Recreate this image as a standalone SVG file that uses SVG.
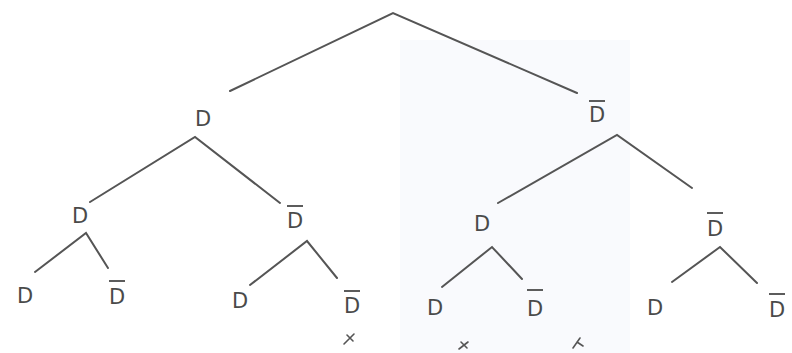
<svg xmlns="http://www.w3.org/2000/svg" width="792" height="353" viewBox="0 0 792 353">
  <defs>
    <style>
      .lbl { font-family: "DejaVu Sans", "Liberation Sans", sans-serif; font-size: 21px; fill: #4a4a4a; text-anchor: middle; }
      .bar { stroke: #4a4a4a; stroke-width: 1.8; }
      .edge { stroke: #555; stroke-width: 2; fill: none; stroke-linecap: round; }
      .mark { stroke: #555; stroke-width: 1.6; fill: none; stroke-linecap: round; }
    </style>
  </defs>
  <rect width="792" height="353" fill="#ffffff"/>
  <rect x="400" y="40" width="230" height="313" fill="#f9fafd"/>

  <g id="connectors">
    <path class="edge" d="M230,91 L393,13 L577,93"/>
    <path class="edge" d="M90,202 L195,137 L280,203"/>
    <path class="edge" d="M498,203 L617,135 L692,188"/>
    <path class="edge" d="M35,272 L86,233 L108,268"/>
    <path class="edge" d="M250,285 L307,241 L337,278"/>
    <path class="edge" d="M442,287 L492,247 L522,279"/>
    <path class="edge" d="M672,282 L720,247 L757,283"/>
  </g>

  <g id="n-D"><text class="lbl" x="203" y="126">D</text></g>
  <g id="n-Dbar"><line class="bar" x1="589" y1="101" x2="605" y2="101"/><text class="lbl" x="597" y="122">D</text></g>

  <g id="n-D-D"><text class="lbl" x="80" y="223">D</text></g>
  <g id="n-D-Dbar"><line class="bar" x1="287" y1="206" x2="303" y2="206"/><text class="lbl" x="295" y="228">D</text></g>
  <g id="n-Dbar-D"><text class="lbl" x="482" y="231">D</text></g>
  <g id="n-Dbar-Dbar"><line class="bar" x1="707" y1="213" x2="723" y2="213"/><text class="lbl" x="715" y="236">D</text></g>

  <g id="leaf1"><text class="lbl" x="25" y="303">D</text></g>
  <g id="leaf2"><line class="bar" x1="109" y1="281" x2="125" y2="281"/><text class="lbl" x="117" y="304">D</text></g>
  <g id="leaf3"><text class="lbl" x="240" y="308">D</text></g>
  <g id="leaf4"><line class="bar" x1="344" y1="291" x2="360" y2="291"/><text class="lbl" x="352" y="313">D</text></g>
  <g id="leaf5"><text class="lbl" x="435" y="315">D</text></g>
  <g id="leaf6"><line class="bar" x1="527" y1="290" x2="543" y2="290"/><text class="lbl" x="535" y="316">D</text></g>
  <g id="leaf7"><text class="lbl" x="655" y="315">D</text></g>
  <g id="leaf8"><line class="bar" x1="769" y1="294" x2="785" y2="294"/><text class="lbl" x="777" y="317">D</text></g>

  <g id="marks">
    <path class="mark" d="M344,344 L354,334 M347,335 L353,341"/>
    <path class="mark" d="M459,349 L468,342 M461,342 L467,348"/>
    <path class="mark" d="M573,348 L580,338 M577,342 L583,346"/>
  </g>
</svg>
